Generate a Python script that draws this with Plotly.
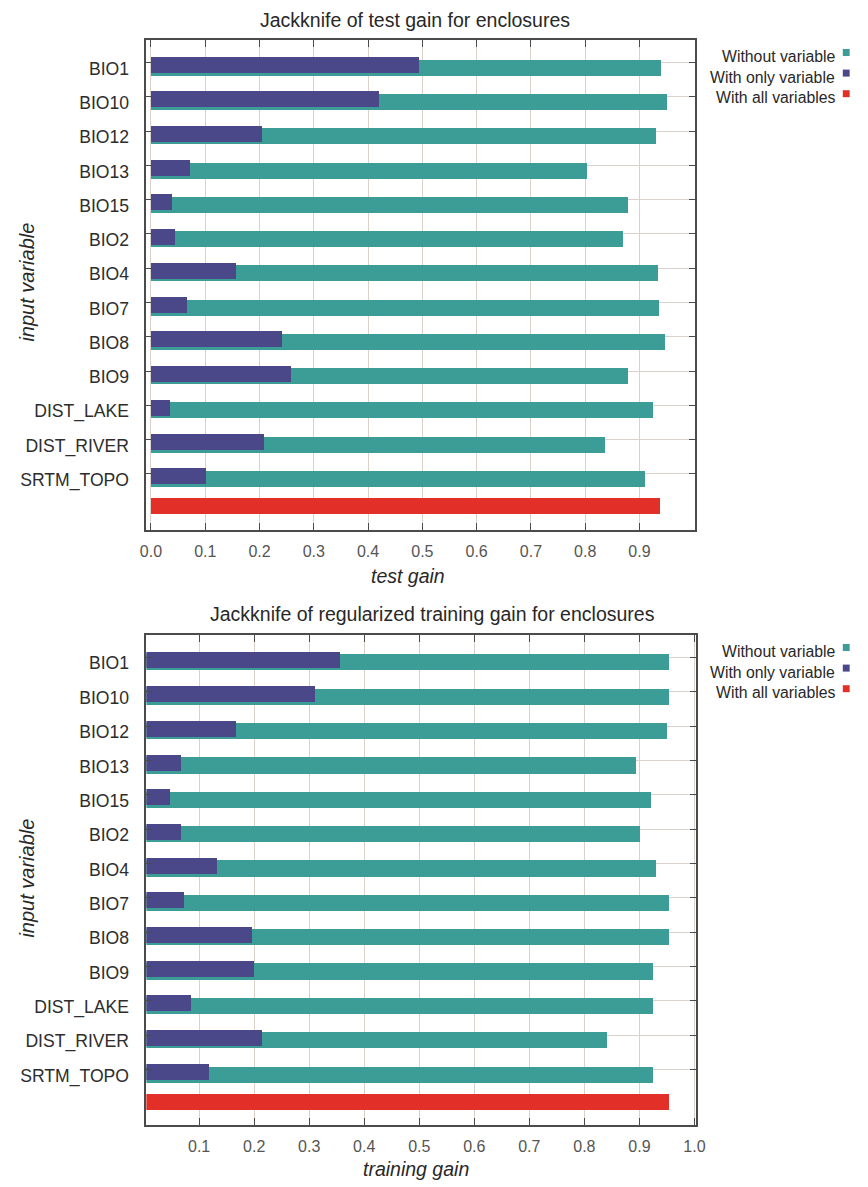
import plotly.graph_objects as go

# Jackknife results (MaxEnt) for the enclosures model
variables = ["BIO1", "BIO10", "BIO12", "BIO13", "BIO15", "BIO2", "BIO4",
             "BIO7", "BIO8", "BIO9", "DIST_LAKE", "DIST_RIVER", "SRTM_TOPO"]

test_without = [0.941, 0.951, 0.931, 0.804, 0.880, 0.870, 0.935,
                0.936, 0.948, 0.880, 0.925, 0.838, 0.910]
test_only = [0.494, 0.420, 0.205, 0.073, 0.040, 0.045, 0.157,
             0.067, 0.242, 0.259, 0.035, 0.209, 0.102]
test_all = 0.938

train_without = [0.955, 0.955, 0.950, 0.895, 0.922, 0.902, 0.931,
                 0.955, 0.955, 0.925, 0.925, 0.842, 0.925]
train_only = [0.356, 0.311, 0.168, 0.067, 0.048, 0.067, 0.133,
              0.073, 0.196, 0.200, 0.086, 0.214, 0.118]
train_all = 0.955

test_ticks = [0.0, 0.1, 0.2, 0.3, 0.4, 0.5, 0.6, 0.7, 0.8, 0.9]
train_ticks = [0.1, 0.2, 0.3, 0.4, 0.5, 0.6, 0.7, 0.8, 0.9, 1.0]

legend_labels = ["Without variable", "With only variable", "With all variables"]

TEAL = "rgb(60,156,150)"
PURPLE = "rgb(74,72,137)"
RED = "rgb(226,48,40)"
GRID = "rgb(218,210,202)"
FRAME = "rgb(75,75,75)"
FONT = "Liberation Sans, Arial, sans-serif"

W, H = 868, 1187


def px(x):
    return x / W


def py(y):
    return 1 - y / H


fig = go.Figure()

rows = list(range(len(variables)))
BAR_W = 0.467
ALL_POS = 12.86


def add_panel(without, only, all_val, xa, ya):
    fig.add_trace(go.Bar(
        x=without, y=rows, orientation="h", width=BAR_W, offset=0.15 - BAR_W / 2,
        marker=dict(color=TEAL, line=dict(width=0)), xaxis=xa, yaxis=ya,
        name=legend_labels[0], showlegend=False))
    fig.add_trace(go.Bar(
        x=only, y=rows, orientation="h", width=BAR_W, offset=0.076 - BAR_W / 2,
        marker=dict(color=PURPLE, line=dict(width=0)), xaxis=xa, yaxis=ya,
        name=legend_labels[1], showlegend=False))
    fig.add_trace(go.Bar(
        x=[all_val], y=[ALL_POS], orientation="h", width=BAR_W, offset=0.076 - BAR_W / 2,
        marker=dict(color=RED, line=dict(width=0)), xaxis=xa, yaxis=ya,
        name=legend_labels[2], showlegend=False))


add_panel(test_without, test_only, test_all, "x", "y")
add_panel(train_without, train_only, train_all, "x2", "y2")

xaxis_common = dict(
    showline=True, linecolor=FRAME, linewidth=1.6, mirror="ticks",
    ticks="inside", ticklen=7, tickwidth=1, tickcolor=FRAME,
    showgrid=True, gridcolor=GRID, gridwidth=1, zeroline=False,
    tickfont=dict(family=FONT, size=16, color="rgb(85,85,85)"),
    ticklabelstandoff=6,
)
yaxis_common = dict(
    showline=True, linecolor=FRAME, linewidth=1.6, mirror="ticks",
    ticks="inside", ticklen=6, tickwidth=1, tickcolor=FRAME,
    showgrid=True, gridcolor=GRID, gridwidth=1, zeroline=False,
    tickmode="array", tickvals=rows, ticktext=variables,
    tickfont=dict(family=FONT, size=17.6, color="rgb(45,45,45)"),
    ticklabelstandoff=12, ticklabelshift=-6,
)

fig.update_layout(
    width=W, height=H, autosize=False,
    margin=dict(l=0, r=0, t=0, b=0),
    paper_bgcolor="white", plot_bgcolor="white",
    barmode="overlay", bargap=0,
    showlegend=False,
    xaxis=dict(domain=[px(143), px(702)], range=[-0.0085, 1.0024], anchor="y",
               tickmode="array", tickvals=test_ticks,
               ticktext=[f"{t:.1f}" for t in test_ticks], **xaxis_common),
    yaxis=dict(domain=[py(530), py(40)], range=[13.64, -0.66], anchor="x",
               **yaxis_common),
    xaxis2=dict(domain=[px(143), px(703)], range=[0.0041, 1.0029], anchor="y2",
                tickmode="array", tickvals=train_ticks,
                ticktext=[f"{t:.1f}" for t in train_ticks], **xaxis_common),
    yaxis2=dict(domain=[py(1125), py(635)], range=[13.62, -0.65], anchor="x2",
                **yaxis_common),
)

annotations = []
shapes = []


def text(x, y, s, size, italic=False, anchor="center", angle=0, color="rgb(40,40,40)"):
    annotations.append(dict(
        x=px(x), y=py(y), xref="paper", yref="paper", text=s, showarrow=False,
        xanchor=anchor, yanchor="middle", textangle=angle,
        font=dict(family=FONT, size=size, color=color,
                  style="italic" if italic else "normal")))


# Titles
text(417, 20, "Jackknife of test gain for enclosures", 19.5)
text(435, 614, "Jackknife of regularized training gain for enclosures", 19.5)

# Axis titles
text(410, 576, "test gain", 19.5, italic=True)
text(418, 1169, "training gain", 19.5, italic=True)
text(21, 282, "input variable", 20, italic=True, angle=-90)
text(21, 878, "input variable", 20, italic=True, angle=-90)

# Legends (text right-aligned, colour key to the right)
legend_colors = [TEAL, PURPLE, RED]
for top in (40, 635):
    for k, (lab, col) in enumerate(zip(legend_labels, legend_colors)):
        yc = top + 16.5 + k * 20.6
        text(847, yc, lab, 15.8, anchor="right")
        shapes.append(dict(type="rect", xref="paper", yref="paper",
                           x0=px(852.5), x1=px(859.5), y0=py(yc - 0.5), y1=py(yc - 7.5),
                           fillcolor=col, line=dict(width=0)))

fig.update_layout(annotations=annotations, shapes=shapes)

fig.write_html("out.html")
